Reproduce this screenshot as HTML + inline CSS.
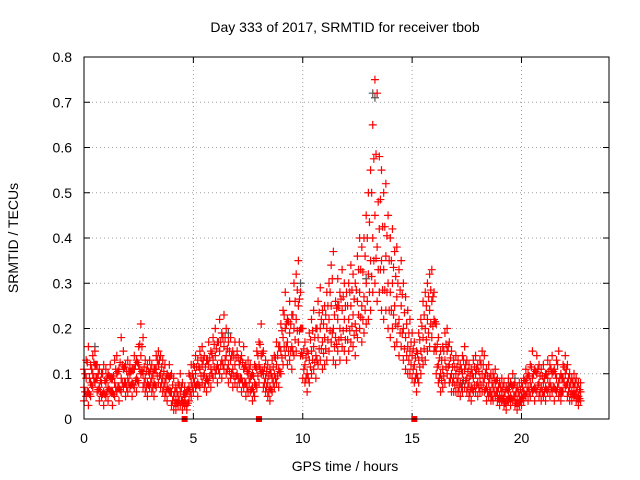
<!DOCTYPE html>
<html><head><meta charset="utf-8"><style>
body{margin:0;background:#fff}
svg{display:block;font-family:"Liberation Sans",sans-serif}
</style></head><body>
<svg id="chart" width="640" height="480">
<text x="345" y="32" text-anchor="middle" font-size="14" fill="#000">Day 333 of 2017, SRMTID for receiver tbob</text>
<text x="345" y="471" text-anchor="middle" font-size="14" fill="#000">GPS time / hours</text>
<text transform="translate(18,238) rotate(-90)" text-anchor="middle" font-size="14" fill="#000">SRMTID / TECUs</text>
<g id="grid"></g>
<g id="axes"></g>
<g id="marks"></g>
<rect x="84" y="57" width="525" height="362" fill="none" stroke="#000" stroke-width="1"/>
</svg>
<script>
const xTicks=[0,5,10,15,20];
const yTicks=[0,0.1,0.2,0.3,0.4,0.5,0.6,0.7,0.8];
const yTickLabels=["0","0.1","0.2","0.3","0.4","0.5","0.6","0.7","0.8"];
const tStep=0.1;
const midVals=[.07,.09,.06,.08,.1,.12,.09,.07,.08,.06,
.08,.07,.09,.06,.08,.1,.07,.09,.11,.08,
.09,.1,.08,.11,.09,.12,.14,.1,.09,.08,
.1,.09,.08,.11,.12,.1,.09,.08,.07,.09,
.06,.05,.04,.05,.06,.04,.05,.03,.07,.08,
.09,.1,.08,.11,.12,.1,.09,.12,.11,.13,
.14,.12,.15,.13,.16,.14,.12,.13,.11,.12,
.1,.12,.09,.11,.08,.1,.09,.07,.08,.11,
.12,.14,.1,.09,.08,.07,.09,.1,.12,.11,
.15,.18,.2,.17,.19,.16,.2,.22,.25,.2,
.14,.12,.1,.13,.15,.16,.14,.18,.2,.17,
.18,.2,.22,.25,.2,.18,.22,.2,.24,.22,
.2,.22,.25,.23,.21,.26,.28,.25,.27,.3,
.32,.35,.4,.45,.38,.42,.35,.33,.36,.3,
.28,.3,.25,.27,.22,.25,.2,.18,.16,.15,
.14,.12,.1,.13,.15,.18,.2,.22,.24,.26,
.22,.15,.12,.1,.11,.13,.15,.12,.1,.09,
.1,.09,.08,.1,.11,.09,.08,.07,.09,.1,
.08,.09,.1,.09,.07,.08,.06,.07,.08,.06,
.05,.06,.05,.04,.06,.05,.07,.05,.04,.05,
.05,.06,.08,.07,.08,.09,.07,.1,.08,.07,
.08,.07,.09,.08,.1,.07,.09,.08,.06,.09,
.1,.08,.07,.06,.07,.06,.05,.06];
const hiVals=[.11,.13,.16,.12,.14,.15,.12,.11,.1,.12,
.11,.1,.12,.09,.13,.14,.11,.18,.15,.12,
.13,.12,.11,.14,.13,.16,.21,.18,.13,.12,
.13,.12,.11,.14,.15,.14,.13,.12,.1,.12,
.1,.09,.07,.08,.1,.08,.07,.06,.1,.12,
.12,.14,.13,.15,.16,.14,.13,.17,.15,.18,
.2,.17,.22,.19,.23,.2,.17,.18,.15,.17,
.15,.17,.14,.16,.12,.13,.12,.1,.12,.15,
.17,.21,.15,.13,.12,.11,.13,.14,.17,.16,
.21,.24,.28,.22,.26,.23,.3,.32,.35,.28,
.2,.17,.15,.19,.22,.24,.2,.26,.29,.24,
.25,.28,.3,.34,.37,.26,.31,.28,.33,.3,
.28,.3,.34,.32,.3,.36,.4,.38,.4,.45,
.5,.55,.65,.75,.72,.58,.55,.5,.52,.45,
.4,.42,.37,.38,.33,.35,.3,.27,.24,.22,
.19,.17,.15,.19,.22,.26,.28,.3,.32,.33,
.28,.21,.18,.15,.16,.19,.2,.17,.15,.13,
.14,.13,.12,.14,.16,.13,.12,.11,.13,.14,
.12,.13,.15,.14,.11,.12,.1,.1,.11,.09,
.08,.09,.08,.07,.09,.08,.1,.08,.07,.08,
.08,.09,.11,.1,.12,.15,.11,.14,.12,.11,
.12,.1,.13,.12,.14,.11,.13,.15,.1,.12,
.14,.12,.1,.09,.1,.09,.08,.08];
const loVals=[.04,.05,.03,.05,.07,.08,.06,.04,.05,.03,
.05,.04,.06,.03,.05,.06,.04,.06,.07,.05,
.06,.07,.05,.07,.06,.08,.1,.07,.06,.05,
.07,.06,.05,.07,.08,.07,.06,.05,.04,.06,
.03,.02,.02,.03,.03,.02,.03,.02,.04,.05,
.06,.07,.05,.07,.08,.07,.06,.08,.07,.09,
.1,.08,.1,.09,.11,.1,.08,.09,.07,.08,
.07,.08,.06,.07,.05,.06,.06,.04,.05,.07,
.08,.1,.07,.06,.05,.04,.06,.07,.08,.07,
.1,.12,.14,.12,.13,.11,.14,.15,.17,.14,
.09,.08,.06,.08,.1,.11,.09,.12,.13,.11,
.12,.13,.15,.17,.13,.12,.15,.13,.16,.15,
.13,.15,.17,.16,.14,.18,.2,.17,.19,.21,
.22,.24,.28,.3,.26,.28,.24,.22,.24,.2,
.18,.2,.16,.17,.14,.16,.13,.11,.1,.1,
.09,.08,.06,.08,.1,.12,.13,.15,.16,.18,
.15,.1,.08,.06,.07,.08,.1,.08,.06,.06,
.06,.06,.05,.06,.07,.06,.05,.04,.06,.06,
.05,.06,.06,.06,.04,.05,.04,.04,.05,.04,
.03,.04,.03,.02,.04,.03,.04,.03,.02,.03,
.03,.04,.05,.04,.05,.06,.04,.06,.05,.04,
.05,.04,.06,.05,.06,.04,.06,.05,.04,.06,
.07,.05,.04,.04,.05,.04,.03,.04];
const grayTimes=[0.5,6.6,9.9,11.6,13.2,13.3,17.3,19.4,19.7,12.9];
const grayVals=[0.16,0.19,0.3,0.25,0.72,0.71,0.08,0.08,0.09,0.31];
const squareTimes=[4.6,8.0,15.1];

const X0=84,X1=609,XMAX=24,Y0=419,Y1=57,YMAX=0.8;
function xs(t){return X0+(X1-X0)*t/XMAX;}
function ys(v){return Y0-(Y0-Y1)*v/YMAX;}
const NS="http://www.w3.org/2000/svg";
function mk(tag,attrs,parent){const e=document.createElementNS(NS,tag);for(const k in attrs)e.setAttribute(k,attrs[k]);parent.appendChild(e);return e;}
const grid=document.getElementById('grid'),axes=document.getElementById('axes'),marks=document.getElementById('marks');
xTicks.forEach(t=>{
  const x=xs(t);
  if(t>0){const g=mk('line',{x1:x,y1:Y0,x2:x,y2:Y1,stroke:'#a0a0a0','stroke-dasharray':'1,3'},grid);
  
  }
  const tk=mk('line',{x1:x,y1:Y0,x2:x,y2:Y0-6,stroke:'#000'},axes);
  
  
  mk('line',{x1:x,y1:Y1,x2:x,y2:Y1+6,stroke:'#000'},axes);
  const lb=mk('text',{x:x,y:Y0+24,'text-anchor':'middle','font-size':'14'},axes);
  lb.textContent=String(t);
  
  
});
yTicks.forEach((v,i)=>{
  const y=ys(v);
  if(v>0&&v<YMAX){const g=mk('line',{x1:X0,y1:y,x2:X1,y2:y,stroke:'#a0a0a0','stroke-dasharray':'1,3'},grid);
  
  }
  const tk=mk('line',{x1:X0,y1:y,x2:X0+6,y2:y,stroke:'#000'},axes);
  
  
  mk('line',{x1:X1,y1:y,x2:X1-6,y2:y,stroke:'#000'},axes);
  const lb=mk('text',{x:X0-12,y:y+5,'text-anchor':'end','font-size':'14'},axes);
  lb.textContent=yTickLabels[i];
  
  
});
function plus(t,v,col){
  const x=xs(t),y=ys(v);
  const p=mk('path',{d:`M${x-4},${y}H${x+4}M${x},${y-4}V${y+4}`,stroke:col,'stroke-width':'1.2',fill:'none'},marks);
  
  
}
grayTimes.forEach((t,i)=>plus(t,grayVals[i],'#555'));
[loVals,midVals,hiVals].forEach(arr=>arr.forEach((v,i)=>plus(i*tStep,v,'#ff0000')));
midVals.forEach((v,i)=>{if(i+1<midVals.length)plus(i*tStep+tStep/2,(v+hiVals[i+1])/2,'#ff0000');});
midVals.forEach((v,i)=>{if(i+1<midVals.length)plus(i*tStep+tStep/2,(v+loVals[i+1])/2,'#ff0000');});
squareTimes.forEach(t=>{
  const s=mk('rect',{x:xs(t)-3,y:ys(0)-3,width:6,height:6,fill:'#ff0000'},marks);
  
  
});
</script>
</body></html>
